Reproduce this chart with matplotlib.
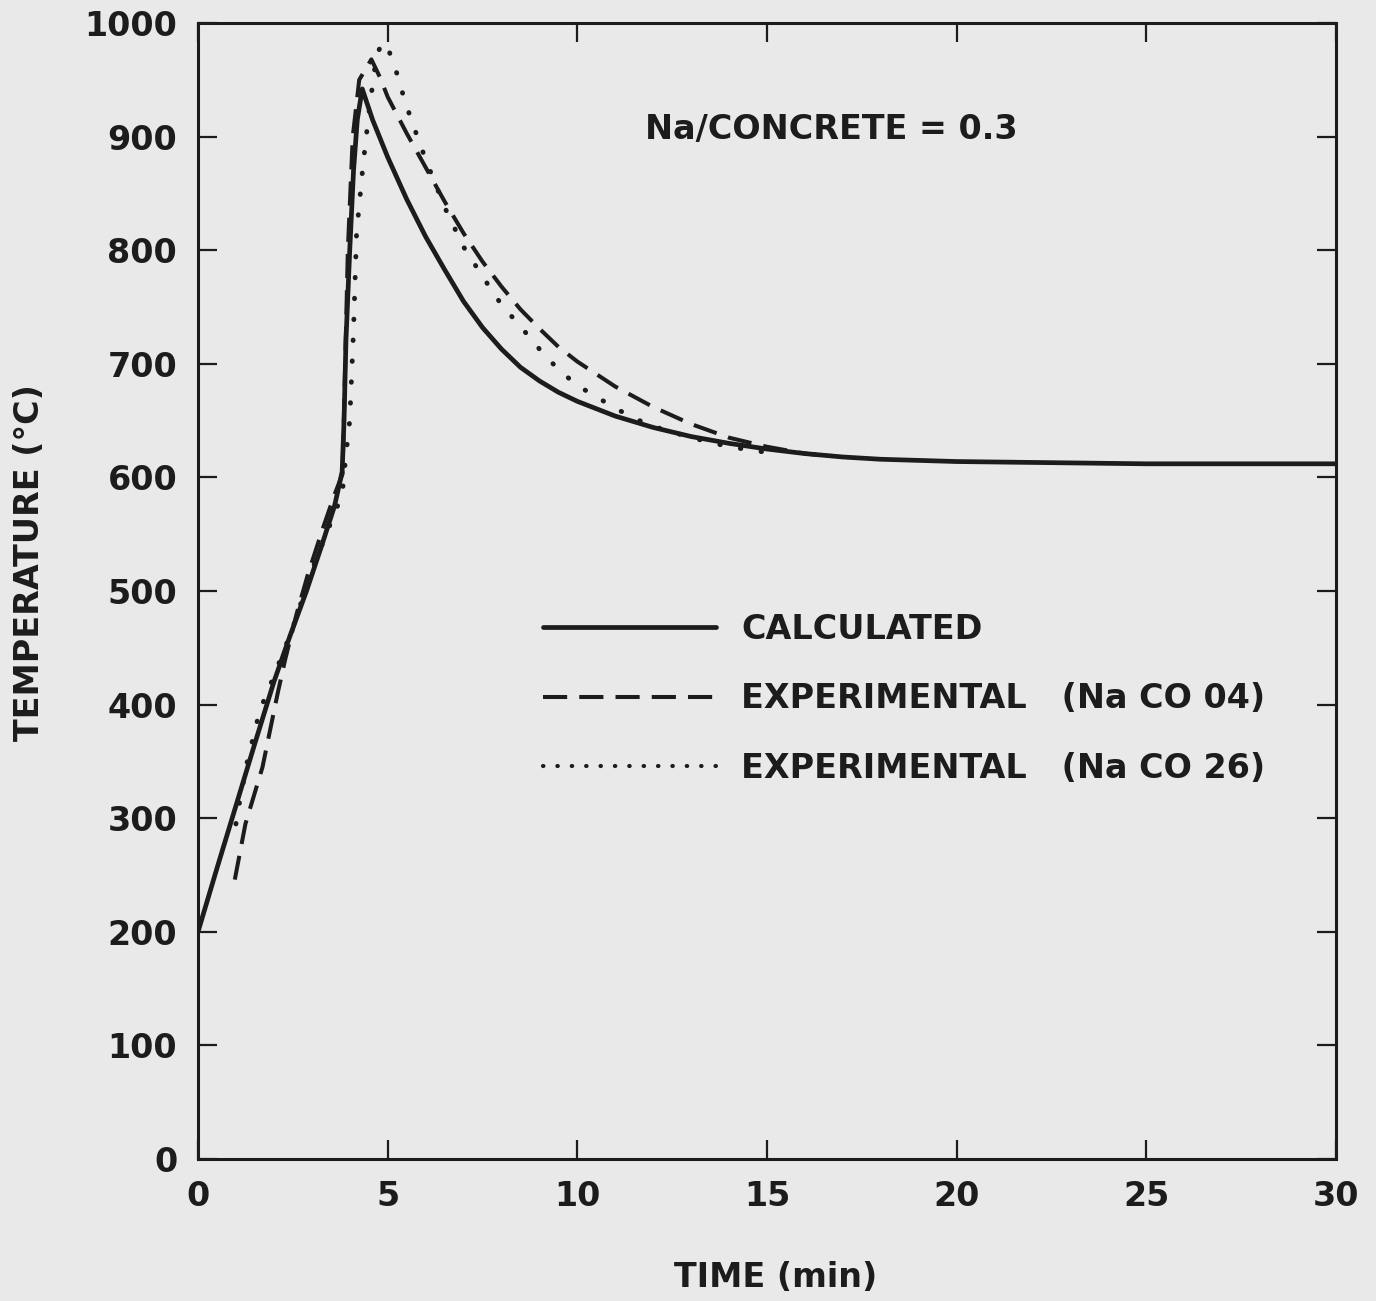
import matplotlib
matplotlib.use("Agg")
import matplotlib.pyplot as plt
import numpy as np

plt.rcParams['font.family'] = ['DejaVu Sans']
plt.rcParams['font.weight'] = 'bold'
plt.rcParams['axes.labelweight'] = 'bold'
plt.rcParams['font.size'] = 24

# calculated curve
calc_t = [0, 0.5, 1.0, 1.5, 2.0, 2.42, 2.86, 3.28, 3.6, 3.8, 3.85, 3.9, 4.0, 4.1,
          4.2, 4.33, 4.6, 5.0, 5.5, 6.0, 6.5, 7.0, 7.5, 8.0, 8.5, 9.0, 9.5,
          10, 11, 12, 13, 14, 15, 16, 17, 18, 20, 25, 30]
calc_T = [200, 256, 311, 366, 420, 460, 500, 542, 575, 605, 650, 720, 800, 870,
          915, 942, 915, 882, 845, 812, 783, 755, 732, 713, 697, 685, 675,
          667, 654, 644, 636, 630, 625, 621, 618, 616, 614, 612, 612]

# experimental Na CO 04 (dashed)
exp04_t = [0.97, 1.25, 1.7, 2.1, 2.3, 2.6, 2.9, 3.3, 3.6, 3.81, 3.88, 3.95, 4.08,
           4.25, 4.57, 4.8, 5.0, 5.5, 6.0, 6.5, 7.0, 7.5, 8.0, 8.5, 9.0, 9.5,
           10, 11, 12, 13, 14, 15, 16, 16.3]
exp04_T = [246, 295, 345, 410, 440, 480, 515, 556, 585, 603, 700, 800, 900,
           950, 968, 952, 935, 903, 873, 843, 815, 790, 768, 748, 731, 715,
           702, 680, 662, 647, 635, 627, 621, 620]

# experimental Na CO 26 (dotted)
exp26_t = [1.0, 1.1, 1.3, 1.63, 2.0, 2.5, 3.0, 3.5, 3.8, 3.9, 4.0, 4.1, 4.18,
           4.35, 4.52, 4.7, 4.85, 5.04, 5.23, 5.44, 5.62, 6.0, 6.5, 7.0, 7.5,
           8.0, 8.5, 9.0, 9.5, 10, 10.5, 11, 11.5, 12, 13, 14, 15]
exp26_T = [295, 315, 350, 395, 425, 468, 518, 560, 585, 620, 650, 730, 815,
           875, 925, 970, 983, 975, 957, 933, 915, 880, 838, 803, 777,
           752, 733, 713, 695, 681, 671, 661, 652, 645, 635, 627, 622]

x_ticks = np.arange(0, 31, 5)
y_ticks = np.arange(0, 1001, 100)

ink = '#1c1c1c'
bg = '#e9e9e9'

fig = plt.figure(figsize=(13.76, 13.01), dpi=100, facecolor=bg)
ax = fig.add_axes([0.1439, 0.1091, 0.827, 0.8732], facecolor=bg)

ax.plot(calc_t, calc_T, color=ink, lw=3.4, solid_capstyle='round',
        solid_joinstyle='round', label='CALCULATED')
ax.plot(exp04_t, exp04_T, color=ink, lw=2.9, dashes=(6, 3.0),
        label='EXPERIMENTAL   (Na CO 04)')
ax.plot(exp26_t, exp26_T, color=ink, lw=3.5, dashes=(0.1, 4.2),
        dash_capstyle='round', label='EXPERIMENTAL   (Na CO 26)')

ax.set_xlim(0, 30)
ax.set_ylim(0, 1000)
ax.set_xticks(x_ticks)
ax.set_yticks(y_ticks)
ax.tick_params(direction='in', length=14, width=1.6, top=True, right=True,
               colors=ink, labelsize=24, pad=15)
for s in ax.spines.values():
    s.set_linewidth(2.2)
    s.set_color(ink)

ax.set_xlabel('TIME (min)', fontsize=24, fontweight='bold', color=ink)
ax.set_ylabel('TEMPERATURE (°C)', fontsize=24, fontweight='bold', color=ink)
ax.xaxis.set_label_coords(0.508, -0.09)
ax.yaxis.set_label_coords(-0.134, 0.525)

ax.text(16.7, 906, 'Na/CONCRETE = 0.3', ha='center', va='center',
        fontsize=24, color=ink)

leg = ax.legend(loc='upper left', bbox_to_anchor=(0.303, 0.481), borderaxespad=0,
                borderpad=0, handlelength=5.2, handletextpad=0.75,
                labelspacing=1.1, frameon=False, fontsize=24, labelcolor=ink)
# tighter dots in the legend key, as in the original
leg.get_lines()[2].set_linewidth(3.0)
leg.get_lines()[2].set_dashes((0.1, 3.35))

fig.savefig('out.png', dpi=100, facecolor=bg)
